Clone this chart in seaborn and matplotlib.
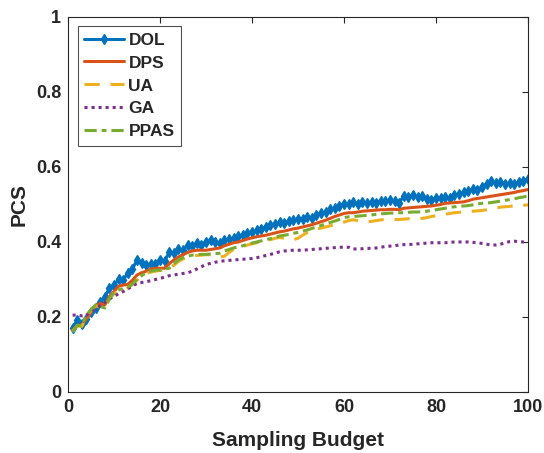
import matplotlib
matplotlib.use("Agg")
import matplotlib.pyplot as plt
import seaborn as sns
import pandas as pd

budget = list(range(1, 101))

dol = [0.170, 0.192, 0.180, 0.195, 0.212, 0.225, 0.240, 0.252, 0.278, 0.285,
       0.300, 0.298, 0.318, 0.328, 0.352, 0.345, 0.338, 0.342, 0.340, 0.352,
       0.350, 0.372, 0.370, 0.380, 0.378, 0.392, 0.388, 0.396, 0.393, 0.400,
       0.406, 0.400, 0.396, 0.404, 0.408, 0.410, 0.415, 0.418, 0.425, 0.427,
       0.432, 0.435, 0.440, 0.445, 0.448, 0.452, 0.450, 0.455, 0.458, 0.460,
       0.462, 0.467, 0.465, 0.472, 0.478, 0.480, 0.487, 0.490, 0.495, 0.502,
       0.500, 0.506, 0.502, 0.506, 0.503, 0.507, 0.505, 0.510, 0.508, 0.511,
       0.508, 0.505, 0.522, 0.520, 0.525, 0.520, 0.522, 0.515, 0.512, 0.518,
       0.516, 0.520, 0.518, 0.524, 0.527, 0.532, 0.535, 0.540, 0.538, 0.546,
       0.555, 0.562, 0.556, 0.560, 0.555, 0.558, 0.554, 0.560, 0.562, 0.568]

dps = [0.165, 0.178, 0.178, 0.195, 0.212, 0.230, 0.236, 0.232, 0.255, 0.268,
       0.282, 0.285, 0.287, 0.298, 0.312, 0.318, 0.322, 0.328, 0.330, 0.330,
       0.330, 0.342, 0.352, 0.360, 0.366, 0.372, 0.376, 0.378, 0.378, 0.378,
       0.380, 0.382, 0.384, 0.390, 0.394, 0.398, 0.400, 0.404, 0.408, 0.411,
       0.414, 0.416, 0.418, 0.421, 0.424, 0.427, 0.429, 0.432, 0.435, 0.437,
       0.440, 0.443, 0.446, 0.450, 0.454, 0.458, 0.463, 0.468, 0.472, 0.476,
       0.478, 0.478, 0.480, 0.482, 0.483, 0.484, 0.485, 0.486, 0.486, 0.487,
       0.487, 0.486, 0.490, 0.491, 0.492, 0.493, 0.494, 0.495, 0.496, 0.498,
       0.500, 0.503, 0.504, 0.505, 0.506, 0.507, 0.510, 0.514, 0.516, 0.518,
       0.520, 0.522, 0.524, 0.526, 0.528, 0.530, 0.532, 0.535, 0.537, 0.540]

ua = [0.162, 0.176, 0.175, 0.200, 0.218, 0.230, 0.226, 0.222, 0.248, 0.262,
      0.270, 0.274, 0.278, 0.286, 0.298, 0.308, 0.316, 0.320, 0.322, 0.324,
      0.326, 0.328, 0.338, 0.348, 0.355, 0.360, 0.363, 0.364, 0.365, 0.366,
      0.366, 0.362, 0.360, 0.362, 0.372, 0.380, 0.384, 0.388, 0.392, 0.395,
      0.398, 0.400, 0.403, 0.406, 0.410, 0.412, 0.410, 0.407, 0.406, 0.410,
      0.418, 0.425, 0.430, 0.434, 0.437, 0.440, 0.443, 0.447, 0.450, 0.453,
      0.457, 0.459, 0.457, 0.455, 0.454, 0.455, 0.457, 0.459, 0.460, 0.461,
      0.460, 0.460, 0.461, 0.462, 0.463, 0.463, 0.463, 0.465, 0.468, 0.470,
      0.472, 0.474, 0.476, 0.478, 0.479, 0.480, 0.481, 0.482, 0.483, 0.484,
      0.486, 0.488, 0.490, 0.493, 0.494, 0.495, 0.496, 0.497, 0.498, 0.499]

ga = [0.205, 0.205, 0.203, 0.205, 0.215, 0.222, 0.230, 0.238, 0.248, 0.255,
      0.262, 0.268, 0.275, 0.282, 0.290, 0.292, 0.294, 0.297, 0.300, 0.303,
      0.306, 0.310, 0.312, 0.314, 0.316, 0.318, 0.322, 0.328, 0.334, 0.340,
      0.343, 0.346, 0.348, 0.350, 0.351, 0.352, 0.353, 0.354, 0.355, 0.356,
      0.358, 0.361, 0.364, 0.367, 0.370, 0.374, 0.376, 0.377, 0.378, 0.378,
      0.378, 0.379, 0.380, 0.381, 0.382, 0.383, 0.384, 0.385, 0.386, 0.386,
      0.386, 0.381, 0.382, 0.382, 0.383, 0.383, 0.384, 0.386, 0.388, 0.389,
      0.390, 0.392, 0.393, 0.393, 0.394, 0.395, 0.396, 0.397, 0.398, 0.398,
      0.398, 0.398, 0.399, 0.400, 0.400, 0.400, 0.400, 0.399, 0.398, 0.396,
      0.394, 0.392, 0.392, 0.394, 0.398, 0.401, 0.402, 0.401, 0.400, 0.400]

ppas = [0.160, 0.178, 0.176, 0.205, 0.220, 0.232, 0.228, 0.224, 0.250, 0.265,
        0.272, 0.276, 0.280, 0.288, 0.300, 0.310, 0.318, 0.322, 0.325, 0.325,
        0.328, 0.330, 0.342, 0.352, 0.358, 0.362, 0.365, 0.366, 0.367, 0.367,
        0.368, 0.369, 0.370, 0.376, 0.380, 0.384, 0.387, 0.390, 0.394, 0.397,
        0.400, 0.403, 0.406, 0.409, 0.412, 0.416, 0.418, 0.420, 0.423, 0.426,
        0.429, 0.432, 0.436, 0.440, 0.444, 0.448, 0.452, 0.456, 0.460, 0.465,
        0.467, 0.468, 0.469, 0.470, 0.471, 0.472, 0.474, 0.475, 0.476, 0.477,
        0.477, 0.478, 0.478, 0.479, 0.480, 0.480, 0.481, 0.482, 0.484, 0.486,
        0.488, 0.490, 0.492, 0.494, 0.495, 0.496, 0.497, 0.499, 0.502, 0.503,
        0.504, 0.505, 0.507, 0.509, 0.511, 0.513, 0.515, 0.518, 0.520, 0.523]

x_ticks = [0, 20, 40, 60, 80, 100]
y_ticks = [0, 0.2, 0.4, 0.6, 0.8, 1]
y_tick_labels = ["0", "0.2", "0.4", "0.6", "0.8", "1"]

sns.set_style("white")
plt.rcParams["font.family"] = ["Liberation Sans", "DejaVu Sans"]
plt.rcParams["font.weight"] = "bold"

fig = plt.figure(figsize=(5.44, 4.53), dpi=100)
ax = fig.add_axes([0.125, 0.1347, 0.8456, 0.8278])

series = [
    ("DOL", dol, dict(color="#0072BD", linestyle="-", marker="d", markersize=5,
                      markeredgewidth=1.0, markeredgecolor="#0072BD",
                      markerfacecolor="#0072BD")),
    ("DPS", dps, dict(color="#D95319", linestyle="-")),
    ("UA", ua, dict(color="#EDB120", linestyle=(0, (5, 3.5)))),
    ("GA", ga, dict(color="#7E2F8E", linestyle=(0, (1, 1.3)))),
    ("PPAS", ppas, dict(color="#77AC30", linestyle=(0, (4, 1.6, 1.6, 1.6)))),
]

for name, vals, kw in series:
    df = pd.DataFrame({"Sampling Budget": budget, "PCS": vals})
    sns.lineplot(data=df, x="Sampling Budget", y="PCS", ax=ax, label=name,
                 linewidth=2.2, sort=False, **kw)

ax.set_xlim(0, 100)
ax.set_ylim(0, 1)
ax.set_xticks(x_ticks)
ax.set_yticks(y_ticks)
ax.set_yticklabels(y_tick_labels)
ax.tick_params(direction="in", top=True, right=True, length=4, width=0.8,
               colors="#262626", labelsize=13, pad=5)
for lab in ax.get_xticklabels() + ax.get_yticklabels():
    lab.set_fontweight("bold")
for sp in ax.spines.values():
    sp.set_color("#262626")
    sp.set_linewidth(0.8)

ax.set_xlabel("Sampling Budget", fontsize=15, fontweight="bold", color="#262626",
              labelpad=11)
ax.set_ylabel("PCS", fontsize=15, fontweight="bold", color="#262626", labelpad=5)

leg = ax.legend(loc="upper left", bbox_to_anchor=(0.022, 0.975), fontsize=12.5,
                frameon=True, fancybox=False, handlelength=2.3, handletextpad=0.25,
                borderpad=0.35, labelspacing=0.45, borderaxespad=0)
leg.get_frame().set_edgecolor("#262626")
leg.get_frame().set_linewidth(0.8)
for t in leg.get_texts():
    t.set_fontweight("bold")

fig.savefig("out.png", dpi=100, facecolor="white")
